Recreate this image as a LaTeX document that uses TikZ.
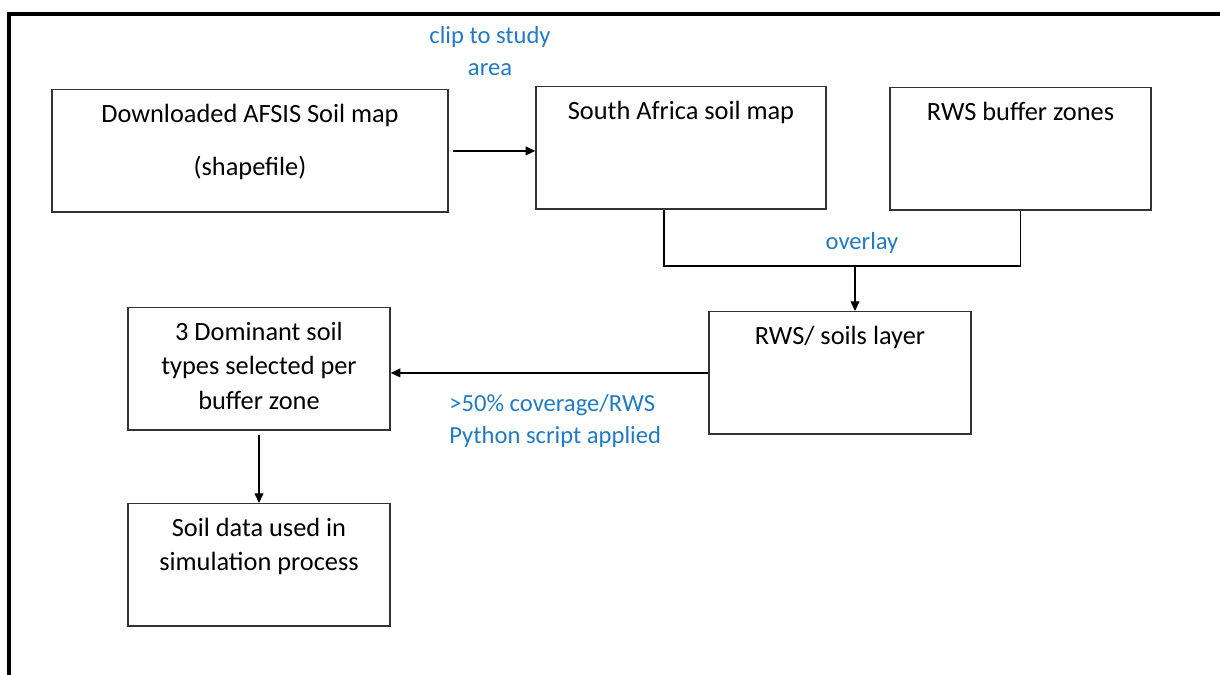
\documentclass[tikz,border=0pt]{standalone}
\usepackage{fontspec}
\setmainfont{Carlito}
\usetikzlibrary{arrows.meta}
\definecolor{noteblue}{HTML}{1F7BC8}
\tikzset{
  box/.style={draw=black!80,line width=0.8pt,inner xsep=0pt,inner ysep=0pt,
    text height=18.7pt,text depth=51pt,align=center,anchor=north,
    font=\fontsize{15}{19.5}\selectfont},
  twolines/.style={text height=38.2pt,text depth=31.5pt},
  threelines/.style={text height=57.7pt,text depth=12pt},
  note/.style={text=noteblue,font=\fontsize{14}{18}\selectfont,inner sep=0pt},
  arr/.style={line width=0.7pt,-{Triangle[length=5.5pt,width=5pt]}},
  link/.style={line width=0.7pt}
}
\begin{document}
\begin{tikzpicture}[x=0.02cm,y=-0.02cm]
        \useasboundingbox (0,0) rectangle (1220,675);
        \draw[line width=2.5pt] (9,675) -- (9,14) -- (1220,14);
        % top row
        \node[box,text height=48.7pt,text depth=21pt,minimum width=396*0.02cm] (afsis) at (250,89) {Downloaded AFSIS Soil map\\[10.5pt](shapefile)};
        \node[box,minimum width=290*0.02cm] (samap) at (681,86) {South Africa soil map};
        \node[box,minimum width=261*0.02cm] (buffer) at (1020.5,87) {RWS buffer zones};
        \draw[arr] ([xshift=2.3pt]afsis.east) -- (afsis.east -| samap.west);
        \node[note,align=center] (clip) at (490,51) {clip to study\\area};
        % overlay
        \coordinate (jl) at (664,266);
        \coordinate (jm) at (855,266);
        \node[box,minimum width=262*0.02cm] (layer) at (840,311) {RWS/ soils layer};
        \draw[link] (jl |- samap.south) -- (jl) -- (buffer.south |- jl) -- (buffer.south);
        \draw[arr] (jm) -- (jm |- layer.north);
        \node[note] (overlay) at (862,243) {overlay};
        % bottom left
        \node[box,threelines,minimum width=262*0.02cm] (dominant) at (259,307) {3 Dominant soil\\types selected per\\buffer zone};
        \node[box,twolines,minimum width=262*0.02cm] (simdata) at (259,503) {Soil data used in\\simulation process};
        \draw[arr] (layer.west) -- (layer.west -| dominant.east);
        \node[note,align=left,anchor=west] (python) at (449,421) {>50\% coverage/RWS\\Python script applied};
        \draw[arr] ([yshift=-2.3pt]dominant.south) -- (simdata.north);
    \end{tikzpicture}
\end{document}
